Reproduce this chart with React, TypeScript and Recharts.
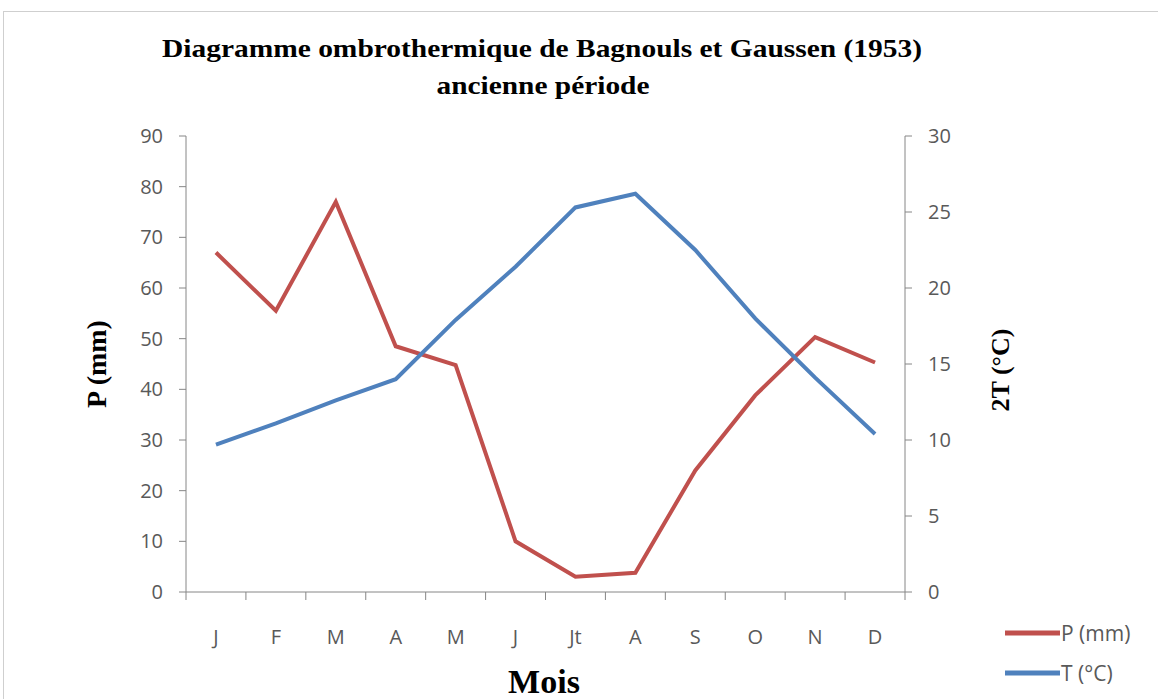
import React from "react";
import { LineChart, Line, XAxis, YAxis } from "recharts";

// données de l'ancienne période
const months = ["J", "F", "M", "A", "M", "J", "Jt", "A", "S", "O", "N", "D"];
const precip = [67, 55.5, 77, 48.5, 44.8, 10, 3, 3.8, 24, 38.8, 50.3, 45.3];
const temp = [9.7, 11.1, 12.6, 14, 17.9, 21.4, 25.3, 26.2, 22.5, 18, 14.1, 10.4];
const pTicks = [0, 10, 20, 30, 40, 50, 60, 70, 80, 90];
const tTicks = [0, 5, 10, 15, 20, 25, 30];

const series = [
  { key: "P", name: "P (mm)", color: "#C0504D" },
  { key: "T", name: "T (°C)", color: "#4F81BD" },
];

const data = months.map((m, i) => ({ mois: m, P: precip[i], T: temp[i] }));

const W = 1158;
const H = 699;
const PLOT_LEFT = 186;
const PLOT_RIGHT = 905;
const PLOT_TOP = 136;
const PLOT_BOTTOM = 592;
const HALF_BAND = (PLOT_RIGHT - PLOT_LEFT) / months.length / 2;

const tickFont = { fontFamily: "'Open Sans', sans-serif", fontSize: 20, fill: "#595959" };
const serif = "'Liberation Serif', 'Times New Roman', serif";

function MonthTick(props: any) {
  const { x, payload, index } = props;
  return (
    <g>
      <line x1={x - HALF_BAND} x2={x - HALF_BAND} y1={PLOT_BOTTOM} y2={PLOT_BOTTOM + 8} stroke="#868686" />
      {index === months.length - 1 && (
        <line x1={x + HALF_BAND} x2={x + HALF_BAND} y1={PLOT_BOTTOM} y2={PLOT_BOTTOM + 8} stroke="#868686" />
      )}
      <text x={x} y={PLOT_BOTTOM + 52} textAnchor="middle" {...tickFont}>
        {payload.value}
      </text>
    </g>
  );
}

export default function App() {
  return (
    <div style={{ position: "absolute", left: 0, top: 0, width: W, height: H, background: "#fff" }}>
      <LineChart
        width={W}
        height={H}
        data={data}
        margin={{ top: PLOT_TOP, right: 133, bottom: 47, left: 0 }}
      >
        <XAxis
          dataKey="mois"
          xAxisId="m"
          height={60}
          padding={{ left: HALF_BAND, right: HALF_BAND }}
          axisLine={{ stroke: "#868686" }}
          tickLine={false}
          interval={0}
          tick={<MonthTick />}
        />
        <YAxis
          yAxisId="p"
          width={PLOT_LEFT}
          domain={[0, 90]}
          ticks={pTicks}
          interval={0}
          axisLine={{ stroke: "#868686" }}
          tickLine={{ stroke: "#868686" }}
          tickSize={7}
          tickMargin={16}
          tick={tickFont}
        />
        <YAxis
          yAxisId="t"
          orientation="right"
          width={120}
          domain={[0, 30]}
          ticks={tTicks}
          interval={0}
          axisLine={{ stroke: "#868686" }}
          tickLine={{ stroke: "#868686" }}
          tickSize={7}
          tickMargin={16}
          tick={tickFont}
        />
        <Line
          xAxisId="m"
          yAxisId="p"
          dataKey="P"
          name={series[0].name}
          stroke={series[0].color}
          strokeWidth={4}
          dot={false}
          type="linear"
          isAnimationActive={false}
        />
        <Line
          xAxisId="m"
          yAxisId="t"
          dataKey="T"
          name={series[1].name}
          stroke={series[1].color}
          strokeWidth={4}
          dot={false}
          type="linear"
          isAnimationActive={false}
        />
      </LineChart>
      <svg
        width={W}
        height={H}
        style={{ position: "absolute", left: 0, top: 0, pointerEvents: "none" }}
      >
        <line x1={3.5} x2={3.5} y1={11} y2={H} stroke="#cfcfcf" />
        <line x1={3} x2={W} y1={11.5} y2={11.5} stroke="#cfcfcf" />
        <text
          x={542}
          y={57}
          textAnchor="middle"
          fontFamily={serif}
          fontWeight="bold"
          fontSize={25}
          textLength={760}
          lengthAdjust="spacingAndGlyphs"
          fill="#000"
        >
          Diagramme ombrothermique de Bagnouls et Gaussen (1953)
        </text>
        <text
          x={543}
          y={94}
          textAnchor="middle"
          fontFamily={serif}
          fontWeight="bold"
          fontSize={25}
          textLength={213}
          lengthAdjust="spacingAndGlyphs"
          fill="#000"
        >
          ancienne période
        </text>
        <text
          transform="translate(106, 364) rotate(-90)"
          textAnchor="middle"
          fontFamily={serif}
          fontWeight="bold"
          fontSize={28}
          fill="#000"
        >
          P (mm)
        </text>
        <text
          transform="translate(1009, 370) rotate(-90)"
          textAnchor="middle"
          fontFamily={serif}
          fontWeight="bold"
          fontSize={26}
          fill="#000"
        >
          2T (°C)
        </text>
        <text x={544} y={693} textAnchor="middle" fontFamily={serif} fontWeight="bold" fontSize={34} fill="#000">
          Mois
        </text>
        {series.map((s, i) => (
          <g key={s.key}>
            <line x1={1005} x2={1060} y1={633 + i * 40} y2={633 + i * 40} stroke={s.color} strokeWidth={5} />
            <text x={1061} y={641 + i * 40} fontFamily="'Open Sans', sans-serif" fontSize={21} fill="#595959">
              {s.name}
            </text>
          </g>
        ))}
      </svg>
    </div>
  );
}
